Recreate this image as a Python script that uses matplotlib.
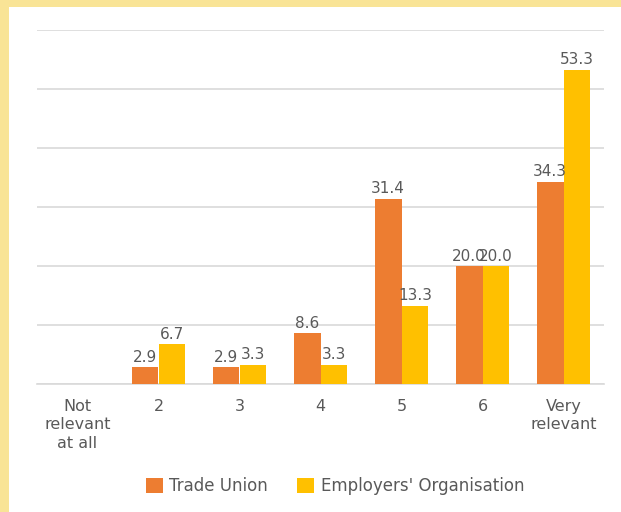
import matplotlib
matplotlib.use("Agg")
import matplotlib.pyplot as plt
from matplotlib.patches import Rectangle
import numpy as np

categories = ["Not\nrelevant\nat all", "2", "3", "4", "5", "6", "Very\nrelevant"]
trade_union = [0, 2.9, 2.9, 8.6, 31.4, 20.0, 34.3]
employers = [0, 6.7, 3.3, 3.3, 13.3, 20.0, 53.3]
series_names = ["Trade Union", "Employers' Organisation"]

ORANGE = "#ED7D31"
YELLOW = "#FFC000"
TEXT = "#595959"
GRID = "#D9D9D9"
FS = 11

plt.rcParams["font.family"] = ["DejaVu Sans"]

W, H = 621, 512
fig = plt.figure(figsize=(W / 100, H / 100), dpi=100)
fig.patch.set_facecolor("#F9E496")
# white card inside the yellow frame
fig.patches.append(Rectangle((9 / W, 0), 1 - 9 / W, 1 - 7 / H,
                             transform=fig.transFigure, facecolor="white",
                             edgecolor="none", zorder=-10))

ax = fig.add_axes([37 / W, 128 / H, (604 - 37) / W, (384 - 30) / H])
ax.set_facecolor("none")

x = np.arange(len(categories))
w = 0.333
b1 = ax.bar(x - w / 2, trade_union, w, color=ORANGE, label=series_names[0], zorder=3)
b2 = ax.bar(x + w / 2, employers, w, color=YELLOW, label=series_names[1], zorder=3)

for bars, vals in ((b1, trade_union), (b2, employers)):
    for rect, v in zip(bars, vals):
        if v == 0:
            continue
        ax.text(rect.get_x() + rect.get_width() / 2, v + 0.4, f"{v:.1f}",
                ha="center", va="bottom", fontsize=FS, color=TEXT, zorder=4)

ax.set_ylim(0, 60)
ax.set_xlim(-0.5, len(categories) - 0.5)
ax.set_yticks(np.arange(0, 61, 10))
ax.yaxis.grid(True, color=GRID, linewidth=1.2, zorder=0)
ax.tick_params(axis="y", left=False, labelleft=False)
ax.set_xticks(x)
ax.set_xticklabels(categories, fontsize=11.5, color=TEXT, linespacing=1.3)
ax.tick_params(axis="x", bottom=False, pad=7)
for s in ("top", "right", "left"):
    ax.spines[s].set_visible(False)
ax.spines["bottom"].set_color(GRID)
ax.spines["bottom"].set_linewidth(1.2)

leg = fig.legend(handles=[b1, b2], labels=series_names, loc="center",
                 bbox_to_anchor=(335 / W, 1 - 486 / H), ncol=2, frameon=False,
                 fontsize=12, handlelength=1.0, handleheight=1.0,
                 handletextpad=0.4, columnspacing=1.75)
for t in leg.get_texts():
    t.set_color(TEXT)

fig.savefig("out.png", dpi=100, facecolor=fig.get_facecolor())
